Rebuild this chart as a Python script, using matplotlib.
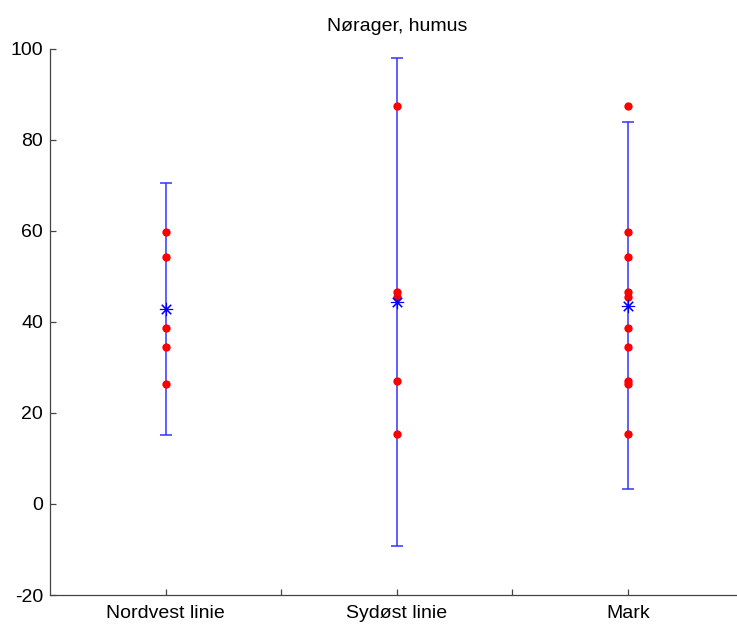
import numpy as np
import matplotlib
matplotlib.use("Agg")
import matplotlib.pyplot as plt

plt.rcParams['font.family'] = ['Liberation Sans', 'DejaVu Sans']
plt.rcParams['axes.unicode_minus'] = False

groups = ["Nordvest linie", "Sydøst linie", "Mark"]

# humus samples per group
nordvest = [59.8, 54.2, 38.6, 34.4, 26.3]
sydost = [87.4, 46.6, 45.5, 26.9, 15.3]
mark = [87.4, 59.8, 54.2, 46.6, 45.5, 38.6, 34.4, 26.9, 26.3, 15.3]

# mean and half width of the error bars
means = [42.9, 44.4, 43.5]
spread = [27.7, 53.6, 40.3]

fig = plt.figure(figsize=(7.37, 6.24), dpi=100)
ax = fig.add_axes([50 / 737, 29 / 624, 693.5 / 737, 546.3 / 624])

pos = np.arange(1, len(groups) + 1)
ax.errorbar(pos, means, yerr=spread, fmt='none', ecolor='#3333ff',
            elinewidth=1.1, capsize=4, capthick=1.1, zorder=2)
ax.plot(pos, means, linestyle='none', marker=(8, 2, 0), markersize=9.5,
        markeredgewidth=0.8, color='blue', zorder=4)

for x, vals in zip(pos, [nordvest, sydost, mark]):
    ax.plot([x] * len(vals), vals, linestyle='none', marker='o',
            markersize=6, color='red', markeredgewidth=0, zorder=3)

ax.set_xlim(0.5, 3.5)
ax.set_ylim(-20, 100)
ax.set_yticks(np.arange(-20, 101, 20))
ax.set_xticks([1, 1.5, 2, 2.5, 3])
ax.set_xticklabels([groups[0], "", groups[1], "", groups[2]])

for side in ['top', 'right']:
    ax.spines[side].set_visible(False)
for side in ['left', 'bottom']:
    ax.spines[side].set_color('#444444')
    ax.spines[side].set_linewidth(0.9)

ax.tick_params(axis='both', direction='in', length=4.5, width=0.9,
               color='#444444', labelsize=14, labelcolor='black')
ax.tick_params(axis='x', pad=7)
ax.tick_params(axis='y', pad=5)

ax.set_title("Nørager, humus", fontsize=14, pad=12.5)

fig.savefig("out.png", dpi=100)
